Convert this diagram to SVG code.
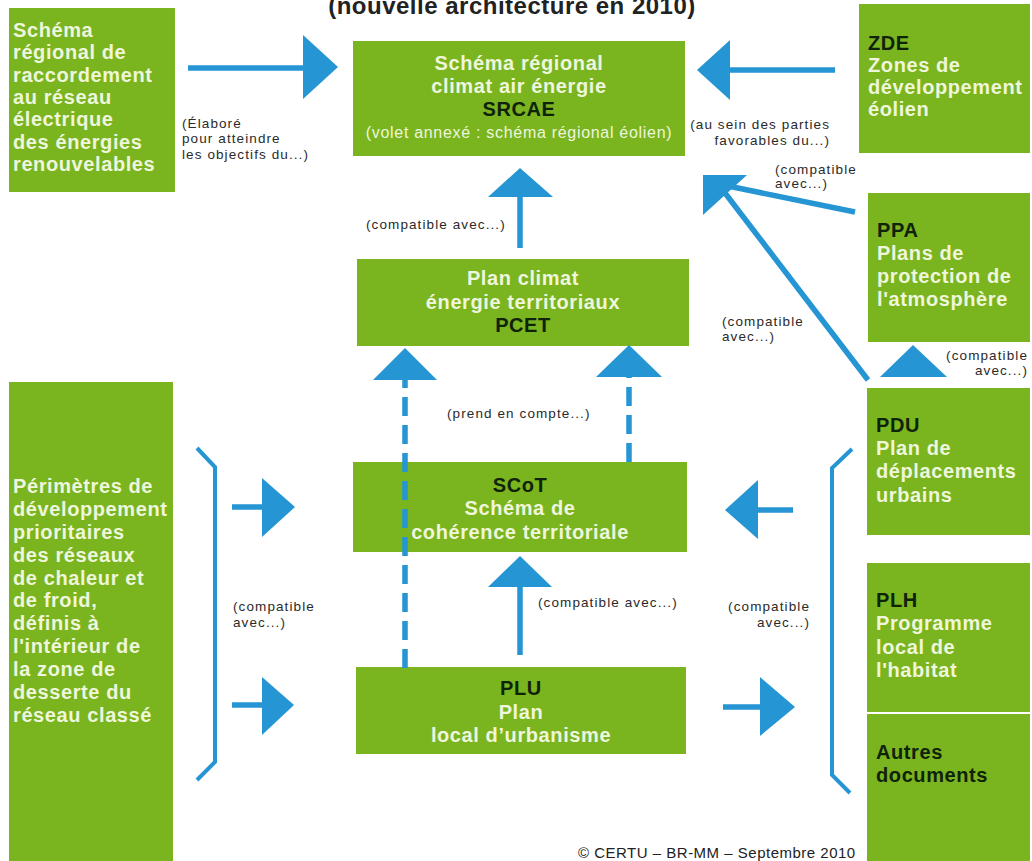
<svg xmlns="http://www.w3.org/2000/svg" width="1032" height="861" viewBox="0 0 1032 861">
<style>
.box{fill:#7ab41f}
.t{font-family:"Liberation Sans",Arial,sans-serif;font-weight:bold;font-size:20px;letter-spacing:0.6px;fill:#eef6dc}
.c{text-anchor:middle}
.dk{fill:#0f220a}
.vol{font-weight:normal;font-size:16px;letter-spacing:0.7px}
.lbl{font-family:"Liberation Sans",Arial,sans-serif;font-size:13.5px;letter-spacing:1.1px;fill:#2a2a2a}
.r{text-anchor:end}
.shaft{stroke:#2595d3;stroke-width:5.5;fill:none}
.dash{stroke:#2595d3;stroke-width:5.5;fill:none;stroke-dasharray:19 9}
.brk{stroke:#2595d3;stroke-width:4;fill:none}
.head{fill:#2595d3}
</style>
<rect width="1032" height="861" fill="#ffffff"/>
<text x="512" y="14" text-anchor="middle" style="font-family:'Liberation Sans',Arial,sans-serif;font-weight:bold;font-size:24px;letter-spacing:0.5px;fill:#222">(nouvelle architecture en 2010)</text>

<g id="node-srr">
<rect class="box" x="9" y="8" width="166" height="184"/>
<text class="t" x="13" y="37">Schéma</text>
<text class="t" x="13" y="59">régional de</text>
<text class="t" x="13" y="82">raccordement</text>
<text class="t" x="13" y="104">au réseau</text>
<text class="t" x="13" y="126">électrique</text>
<text class="t" x="13" y="149">des énergies</text>
<text class="t" x="13" y="171">renouvelables</text>
</g>

<g id="node-srcae">
<rect class="box" x="353" y="41" width="332" height="115"/>
<text class="t c" x="519" y="70">Schéma régional</text>
<text class="t c" x="519" y="93">climat air énergie</text>
<text class="t c dk" x="519" y="116">SRCAE</text>
<text class="t c vol" x="519" y="138">(volet annexé : schéma régional éolien)</text>
</g>

<g id="node-zde">
<rect class="box" x="859" y="4" width="171" height="149"/>
<text class="t dk" x="868" y="50">ZDE</text>
<text class="t" x="868" y="72">Zones de</text>
<text class="t" x="868" y="94">développement</text>
<text class="t" x="868" y="116">éolien</text>
</g>

<g id="node-ppa">
<rect class="box" x="868" y="193" width="162" height="149"/>
<text class="t dk" x="877" y="237">PPA</text>
<text class="t" x="877" y="260">Plans de</text>
<text class="t" x="877" y="283">protection de</text>
<text class="t" x="877" y="306">l'atmosphère</text>
</g>

<g id="node-pcet">
<rect class="box" x="357" y="259" width="332" height="87"/>
<text class="t c" x="523" y="285">Plan climat</text>
<text class="t c" x="523" y="309">énergie territoriaux</text>
<text class="t c dk" x="523" y="332">PCET</text>
</g>

<g id="node-pdu">
<rect class="box" x="867" y="388" width="163" height="147"/>
<text class="t dk" x="876" y="432">PDU</text>
<text class="t" x="876" y="455">Plan de</text>
<text class="t" x="876" y="478">déplacements</text>
<text class="t" x="876" y="502">urbains</text>
</g>

<g id="node-scot">
<rect class="box" x="353" y="462" width="334" height="90"/>
<text class="t c dk" x="520" y="492">SCoT</text>
<text class="t c" x="520" y="515">Schéma de</text>
<text class="t c" x="520" y="539">cohérence territoriale</text>
</g>

<g id="node-pdp">
<rect class="box" x="9" y="382" width="164" height="479"/>
<text class="t" x="13" y="493">Périmètres de</text>
<text class="t" x="13" y="516">développement</text>
<text class="t" x="13" y="539">prioritaires</text>
<text class="t" x="13" y="562">des réseaux</text>
<text class="t" x="13" y="585">de chaleur et</text>
<text class="t" x="13" y="607">de froid,</text>
<text class="t" x="13" y="630">définis à</text>
<text class="t" x="13" y="653">l'intérieur de</text>
<text class="t" x="13" y="676">la zone de</text>
<text class="t" x="13" y="699">desserte du</text>
<text class="t" x="13" y="722">réseau classé</text>
</g>

<g id="node-plh">
<rect class="box" x="867" y="563" width="163" height="149"/>
<text class="t dk" x="876" y="607">PLH</text>
<text class="t" x="876" y="630">Programme</text>
<text class="t" x="876" y="654">local de</text>
<text class="t" x="876" y="677">l'habitat</text>
</g>

<g id="node-autres">
<rect class="box" x="867" y="714" width="163" height="147"/>
<text class="t dk" x="876" y="759">Autres</text>
<text class="t dk" x="876" y="782">documents</text>
</g>

<g id="node-plu">
<rect class="box" x="356" y="667" width="330" height="87"/>
<text class="t c dk" x="521" y="695">PLU</text>
<text class="t c" x="521" y="719">Plan</text>
<text class="t c" x="521" y="742">local d’urbanisme</text>
</g>

<g id="connectors">
<line class="shaft" x1="188" y1="68" x2="305" y2="68"/>
<polygon class="head" points="303,35 338,67 303,99"/>
<line class="shaft" x1="730" y1="70" x2="835" y2="70"/>
<polygon class="head" points="730,40 697,70 730,100"/>
<line class="shaft" x1="520" y1="197" x2="520" y2="248"/>
<polygon class="head" points="488,197 520,168 553,197"/>
<line class="shaft" x1="855" y1="212" x2="728" y2="186"/>
<line class="shaft" x1="868" y1="380" x2="725" y2="193"/>
<polygon class="head" points="703,175 747,175 703,215"/>
<polygon class="head" points="880,377 913,345 947,377"/>
<line class="dash" x1="405" y1="668" x2="405" y2="378"/>
<polygon class="head" points="373,380 405,348 437,380"/>
<line class="dash" x1="629" y1="462" x2="629" y2="376"/>
<polygon class="head" points="596,377 629,345 662,377"/>
<line class="shaft" x1="520" y1="655" x2="520" y2="585"/>
<polygon class="head" points="488,587 520,556 552,587"/>
<line class="shaft" x1="232" y1="507" x2="264" y2="507"/>
<polygon class="head" points="262,478 295,507 262,537"/>
<line class="shaft" x1="232" y1="705" x2="264" y2="705"/>
<polygon class="head" points="262,677 294,705 262,735"/>
<line class="shaft" x1="793" y1="510" x2="756" y2="510"/>
<polygon class="head" points="758,480 725,510 758,539"/>
<line class="shaft" x1="723" y1="707" x2="762" y2="707"/>
<polygon class="head" points="760,677 795,707 760,736"/>
<path class="brk" d="M197,448 L215,467 L215,762 L197,780"/>
<path class="brk" d="M852,449 L832,468 L832,775 L850,793"/>
</g>

<g id="labels">
<text class="lbl" x="182" y="128">(Élaboré</text>
<text class="lbl" x="182" y="143">pour atteindre</text>
<text class="lbl" x="182" y="159">les objectifs du...)</text>
<text class="lbl r" x="830" y="129">(au sein des parties</text>
<text class="lbl r" x="830" y="145">favorables du...)</text>
<text class="lbl" x="775" y="174">(compatible</text>
<text class="lbl" x="775" y="188">avec...)</text>
<text class="lbl" x="366" y="229">(compatible avec...)</text>
<text class="lbl" x="722" y="326">(compatible</text>
<text class="lbl" x="722" y="341">avec...)</text>
<text class="lbl r" x="1028" y="360">(compatible</text>
<text class="lbl r" x="1028" y="375">avec...)</text>
<text class="lbl" x="447" y="418">(prend en compte...)</text>
<text class="lbl" x="233" y="611">(compatible</text>
<text class="lbl" x="233" y="627">avec...)</text>
<text class="lbl" x="538" y="607">(compatible avec...)</text>
<text class="lbl r" x="810" y="611">(compatible</text>
<text class="lbl r" x="810" y="627">avec...)</text>
<text x="578" y="858" style="font-family:'Liberation Sans',Arial,sans-serif;font-size:15px;letter-spacing:0.5px;fill:#222">© CERTU – BR-MM – Septembre 2010</text>
</g>
</svg>
